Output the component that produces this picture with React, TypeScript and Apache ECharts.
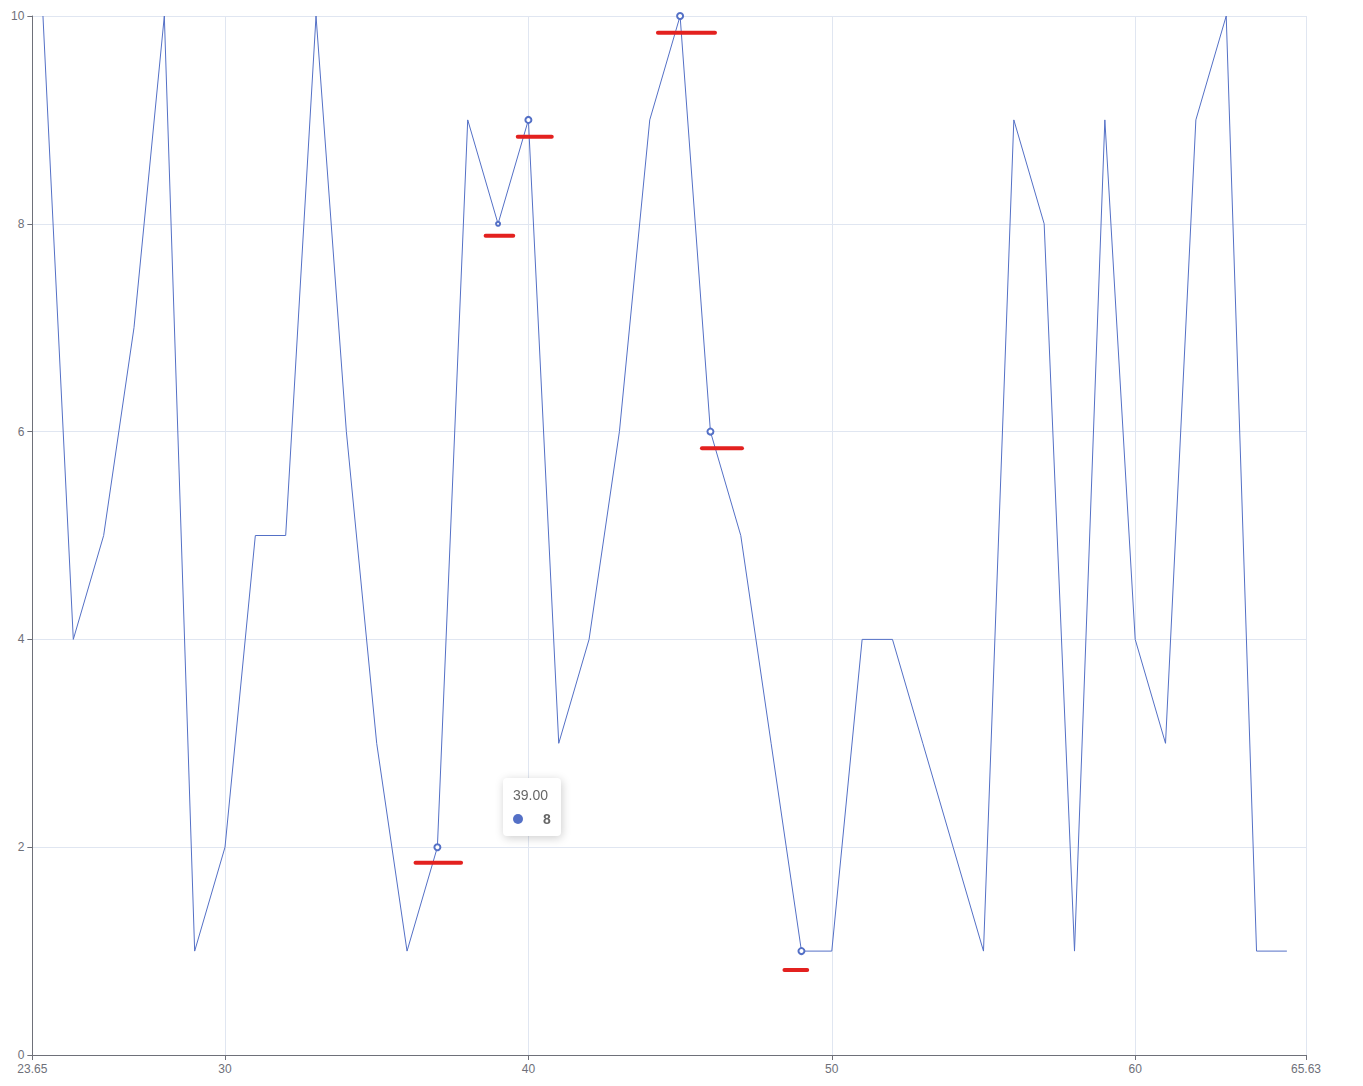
import React, { useEffect, useRef } from "react";
import * as echarts from "echarts";

// x positions and values of the line
const xValues: number[] = [
  24, 25, 26, 27, 28, 29, 30, 31, 32, 33, 34, 35, 36, 37, 38, 39, 40, 41, 42, 43, 44,
  45, 46, 47, 48, 49, 50, 51, 52, 53, 54, 55, 56, 57, 58, 59, 60, 61, 62, 63, 64, 65,
];
const yValues: number[] = [
  10, 4, 5, 7, 10, 1, 2, 5, 5, 10, 6, 3, 1, 2, 9, 8, 9, 3, 4, 6, 9,
  10, 6, 5, 3, 1, 1, 4, 4, 3, 2, 1, 9, 8, 1, 9, 4, 3, 9, 10, 1, 1,
];
// points marked with a hollow circle, and their symbol size
const markedX: number[] = [37, 39, 40, 45, 46, 49];
const markedSize: number[] = [6, 4, 6, 6, 6, 6];

// red bars: start x, end x, y
const barStart: number[] = [36.28, 38.59, 39.65, 44.27, 45.72, 48.44];
const barEnd: number[] = [37.78, 39.5, 40.77, 46.15, 47.04, 49.19];
const barY: number[] = [1.85, 7.886, 8.839, 9.839, 5.839, 0.818];

const xMin = 23.65;
const xMax = 65.63;
const tooltipX = 39;

export default function App() {
  const ref = useRef<HTMLDivElement>(null);
  useEffect(() => {
    if (!ref.current) return;
    const chart = echarts.init(ref.current, undefined, { renderer: "svg" });
    const lineData = xValues.map((x, i) => {
      const k = markedX.indexOf(x);
      if (k >= 0) {
        return {
          value: [x, yValues[i]],
          symbol: "emptyCircle",
          symbolSize: markedSize[k],
        };
      }
      return { value: [x, yValues[i]], symbol: "none" };
    });
    const barData = barStart.map((s, i) => [s, barEnd[i], barY[i]]);
    const tipIndex = xValues.indexOf(tooltipX);
    chart.setOption({
      animation: false,
      grid: { left: 22, right: 49, top: 8, bottom: 23, containLabel: false },
      tooltip: {
        trigger: "item",
        triggerOn: "none",
        alwaysShowContent: true,
        position: () => [495, 770],
        padding: 10,
        borderWidth: 0,
        backgroundColor: "#fff",
        extraCssText: "box-shadow: 1px 2px 10px rgba(0,0,0,0.2);border-radius:4px;",
        formatter: (p: any) => {
          const v = p.value;
          return (
            '<div style="margin:0;line-height:1;">' +
            '<div style="font-size:14px;color:#666;font-weight:400;line-height:1;">' +
            Number(v[0]).toFixed(2) +
            "</div>" +
            '<div style="margin:10px 0 0;line-height:1;">' +
            '<span style="display:inline-block;margin-right:4px;border-radius:10px;width:10px;height:10px;background-color:#5470c6;"></span>' +
            '<span style="float:right;margin-left:16px;font-size:14px;color:#666;font-weight:900">' +
            v[1] +
            "</span>" +
            '<div style="clear:both"></div></div></div>'
          );
        },
      },
      xAxis: {
        type: "value",
        min: xMin,
        max: xMax,
        axisLine: { show: true, lineStyle: { color: "#6E7079" } },
        axisTick: { show: true },
        axisLabel: { color: "#6E7079", fontSize: 12 },
        splitLine: { show: true, lineStyle: { color: "#E0E6F1" } },
      },
      yAxis: {
        type: "value",
        min: 0,
        max: 10,
        interval: 2,
        axisLine: { show: true, lineStyle: { color: "#6E7079" } },
        axisTick: { show: true },
        axisLabel: { color: "#6E7079", fontSize: 12 },
        splitLine: { show: true, lineStyle: { color: "#E0E6F1" } },
      },
      series: [
        {
          type: "line",
          data: lineData,
          showAllSymbol: true,
          lineStyle: { width: 1, color: "#5470c6" },
          itemStyle: { color: "#5470c6", borderWidth: 2 },
          emphasis: { disabled: true },
          z: 3,
        },
        {
          type: "custom",
          data: barData,
          encode: { x: [0, 1], y: 2 },
          silent: true,
          tooltip: { show: false },
          renderItem: (params: any, api: any) => {
            const p0 = api.coord([api.value(0), api.value(2)]);
            const p1 = api.coord([api.value(1), api.value(2)]);
            return {
              type: "line",
              shape: { x1: p0[0], y1: p0[1], x2: p1[0], y2: p1[1] },
              style: { stroke: "#e3211f", lineWidth: 4, lineCap: "round" },
            };
          },
          z: 4,
        },
      ],
    });
    const t = setTimeout(() => {
      chart.dispatchAction({ type: "showTip", seriesIndex: 0, dataIndex: tipIndex });
    }, 50);
    return () => {
      clearTimeout(t);
      chart.dispose();
    };
  }, []);
  return <div ref={ref} style={{ width: 1347, height: 1070 }} />;
}
